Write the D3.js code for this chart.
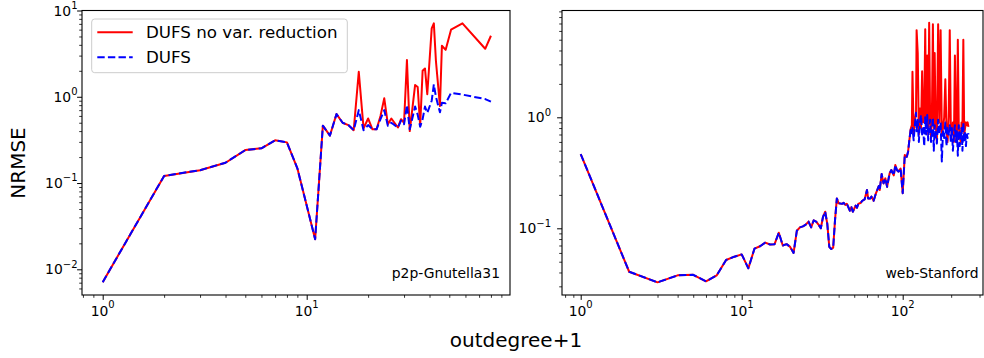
<!DOCTYPE html>
<html><head><meta charset="utf-8">
<script src="https://cdn.jsdelivr.net/npm/d3@7"></script>
<style>body{margin:0;background:#fff}svg{display:block;font-family:"DejaVu Sans",sans-serif}</style>
</head><body>
<svg id="chart" width="984" height="358"></svg>
<script>
// ---------------- DATA ----------------
const seriesNames = ["DUFS no var. reduction", "DUFS"];
const panelNames = ["p2p-Gnutella31", "web-Stanford"];
const xLabel = "outdegree+1";
const yLabel = "NRMSE";

// p2p-Gnutella31
const leftX = [1,2,3,4,5,6,7,8,9,10,11,12,13,14,15,16,17,18,19,20,21,22,23,24,25,26,28,29,30,31,32,34,35,36,37,38,39,41,42,43,45,46,48,51,58,75,80];
const leftRed = [0.0071,0.121,0.141,0.172,0.241,0.253,0.313,0.296,0.148,0.055,0.0223,0.462,0.355,0.63,0.50,0.47,0.41,1.95,0.43,0.56,0.42,0.42,0.60,0.96,0.48,0.56,0.44,0.55,0.50,2.67,0.40,1.37,1.30,0.46,2.0,2.13,1.07,6.2,7.1,2.6,0.78,3.9,3.5,6.0,7.1,3.6,5.1];
const leftBlue = [0.0071,0.121,0.141,0.172,0.241,0.253,0.313,0.296,0.148,0.055,0.0223,0.462,0.355,0.63,0.50,0.47,0.41,0.70,0.41,0.47,0.42,0.42,0.55,0.70,0.46,0.50,0.44,0.53,0.48,0.80,0.42,0.77,0.62,0.45,0.55,0.77,0.65,0.90,1.39,1.00,0.66,0.85,0.84,1.11,1.06,0.94,0.88];

// web-Stanford
const rightX = [1,2,3,4,5,6,7,8,9,10,11,12,13,14,15,16,17,18,19,20,21,22,23,24,25,26,27,28,29,30,31,32,33,34,35,36,37,38,39,40,
  42,43,44,45,47,48,49,51,52,53,55,56,58,60,61,63,64,66,68,71,72,74,76,78,80,82,83,85,88,90,92,94,97,100,103,106,108,110,
  112,114,115,117,119,121,122,124,126,128,130,132,134,136,138,140,142,144,146,148,150,152,154,156,158,160,163,166,169,172,175,178,181,184,187,190,193,196,199,202,205,208,211,214,217,220,223,226,229,232,235,238,241,244,247,250,253,256];
const rightCommon = [0.467,0.0406,0.0326,0.0377,0.0381,0.0333,0.0377,0.0518,0.0555,0.0582,0.0436,0.0655,0.0689,0.0742,0.0714,0.072,0.0912,0.070,0.072,0.068,0.060,0.095,0.102,0.104,0.108,0.115,0.102,0.118,0.115,0.108,0.100,0.127,0.141,0.110,0.068,0.065,0.067,0.119,0.186,0.168,
  0.166,0.170,0.162,0.166,0.144,0.155,0.141,0.160,0.153,0.166,0.170,0.177,0.182,0.221,0.186,0.186,0.193,0.177,0.204,0.240,0.221,0.308,0.254,0.282,0.236,0.287,0.313,0.335,0.300,0.372,0.335,0.324,0.346,0.207,0.457,0.440,0.490,0.624];
const rightRedTail = [0.78,0.85,2.57,0.70,0.95,1.10,6.1,3.8,0.70,1.20,0.80,2.6,0.90,1.00,6.2,0.80,3.6,0.70,7.1,1.00,0.65,1.20,6.9,0.80,3.8,0.90,0.60,6.9,0.90,6.1,0.70,0.80,1.00,2.2,0.80,0.60,1.00,6.1,0.80,0.70,0.90,0.60,3.6,0.70,0.60,5.0,0.80,0.70,0.60,0.90,0.80,5.0,0.70,0.80,0.90,0.85,0.90,0.82];
const rightBlueTail = [0.77,0.72,0.80,0.62,0.85,1.10,0.75,0.95,0.60,0.90,1.05,0.70,0.80,0.55,1.00,0.70,1.05,0.62,0.85,0.95,0.60,0.75,1.00,0.50,0.85,0.70,0.58,0.95,0.70,0.90,0.40,0.75,0.65,0.90,0.55,0.80,0.70,0.85,0.60,0.80,0.50,0.70,0.85,0.60,0.75,0.45,0.85,0.55,0.65,0.80,0.50,0.90,0.60,0.75,0.55,0.70,0.65,0.72];
const rightRed = rightCommon.concat(rightRedTail);
const rightBlue = rightCommon.concat(rightBlueTail);

const leftYTicks = [1e-2, 1e-1, 1e0, 1e1];
const leftYTickLabels = [["10","−2"],["10","−1"],["10","0"],["10","1"]];
const leftXTicks = [1, 10];
const leftXTickLabels = [["10","0"],["10","1"]];
const rightYTicks = [1e-1, 1e0];
const rightYTickLabels = [["10","−1"],["10","0"]];
const rightXTicks = [1, 10, 100];
const rightXTickLabels = [["10","0"],["10","1"],["10","2"]];

// ---------------- LAYOUT ----------------
const svg = d3.select("#chart");
svg.append("rect").attr("width",984).attr("height",358).attr("fill","#fff");

function minorTicks(lo, hi){
  const out=[];
  for(let e=Math.floor(Math.log10(lo)); e<=Math.ceil(Math.log10(hi)); e++){
    for(let m=2;m<=9;m++){const v=m*Math.pow(10,e); if(v>=lo && v<=hi) out.push(v);}
  }
  return out;
}

function drawPanel(p){
  const x = d3.scaleLog().domain(p.xDomain).range([p.left, p.right]);
  const y = d3.scaleLog().domain(p.yDomain).range([p.bottom, p.top]);
  const g = svg.append("g");
  const cid = "clip"+p.id;
  svg.append("defs").append("clipPath").attr("id",cid).append("rect")
    .attr("x",p.left).attr("y",p.top).attr("width",p.right-p.left).attr("height",p.bottom-p.top);

  const line = d3.line().x(d=>x(d[0])).y(d=>y(d[1]));
  const redData = p.xs.map((v,i)=>[v,p.red[i]]);
  const blueData = p.xs.map((v,i)=>[v,p.blue[i]]);
  const lg = g.append("g").attr("clip-path",`url(#${cid})`);
  lg.append("path").datum(redData).attr("d",line).attr("fill","none")
    .attr("stroke","#ff0000").attr("stroke-width",2).attr("stroke-linejoin","round");
  lg.append("path").datum(blueData).attr("d",line).attr("fill","none")
    .attr("stroke","#0000ff").attr("stroke-width",2).attr("stroke-dasharray","7.4,3.2").attr("stroke-linejoin","round");

  // axes
  const xd = x.domain(), yd = y.domain();
  const axStyle = sel => { sel.select(".domain").remove(); sel.selectAll("line").attr("stroke","#000"); };
  g.append("g").attr("transform",`translate(0,${p.bottom})`)
    .call(d3.axisBottom(x).tickValues(minorTicks(xd[0],xd[1])).tickSize(2.8).tickFormat(""))
    .call(axStyle).selectAll("line").attr("stroke-width",0.8);
  g.append("g").attr("transform",`translate(0,${p.bottom})`)
    .call(d3.axisBottom(x).tickValues(p.xTicks).tickSize(4.9).tickFormat(""))
    .call(axStyle).selectAll("line").attr("stroke-width",1);
  g.append("g").attr("transform",`translate(${p.left},0)`)
    .call(d3.axisLeft(y).tickValues(minorTicks(yd[0],yd[1])).tickSize(2.8).tickFormat(""))
    .call(axStyle).selectAll("line").attr("stroke-width",0.8);
  g.append("g").attr("transform",`translate(${p.left},0)`)
    .call(d3.axisLeft(y).tickValues(p.yTicks).tickSize(4.9).tickFormat(""))
    .call(axStyle).selectAll("line").attr("stroke-width",1);

  // tick labels
  p.xTicks.forEach((t,i)=>{
    const tx = g.append("text").attr("x",x(t)).attr("y",p.bottom+21)
      .attr("text-anchor","middle").attr("font-size",13.9).attr("fill","#000");
    tx.append("tspan").text(p.xTickLabels[i][0]);
    tx.append("tspan").attr("dy",-7.7).attr("font-size",10).text(p.xTickLabels[i][1]);
  });
  p.yTicks.forEach((t,i)=>{
    const ty = g.append("text").attr("x",p.yLabelRight).attr("y",y(t)+5)
      .attr("text-anchor","end").attr("font-size",13.9).attr("fill","#000");
    ty.append("tspan").text(p.yTickLabels[i][0]);
    ty.append("tspan").attr("dy",-6.7).attr("font-size",10).text(p.yTickLabels[i][1]);
  });

  // frame
  g.append("rect").attr("x",p.left).attr("y",p.top).attr("width",p.right-p.left).attr("height",p.bottom-p.top)
    .attr("fill","none").attr("stroke","#000").attr("stroke-width",1.1);

  // panel name
  g.append("text").attr("x",p.nameX).attr("y",277.5).attr("text-anchor","end")
    .attr("font-size",13.9).attr("fill","#000").text(p.name);
  return {x,y};
}

// left panel pixel geometry: 10^0 at 102.7, decade 204px ; y: 10^1 at 10.5, decade 86.27px
const L = {id:"L", left:82, right:510, top:10.5, bottom:295,
  xDomain:[Math.pow(10,(82-102.7)/204), Math.pow(10,(510-102.7)/204)],
  yDomain:[Math.pow(10,1-(295-10.5)/86.27), 10],
  xs:leftX, red:leftRed, blue:leftBlue, xTicks:leftXTicks, xTickLabels:leftXTickLabels,
  yTicks:leftYTicks, yTickLabels:leftYTickLabels, yLabelRight:77.5, name:panelNames[0], nameX:500};
const R = {id:"R", left:562, right:983, top:10.5, bottom:295,
  xDomain:[Math.pow(10,(562-580.7)/161), Math.pow(10,(983-580.7)/161)],
  yDomain:[Math.pow(10,-(295-117.3)/111), Math.pow(10,(117.3-10.5)/111)],
  xs:rightX, red:rightRed, blue:rightBlue, xTicks:rightXTicks, xTickLabels:rightXTickLabels,
  yTicks:rightYTicks, yTickLabels:rightYTickLabels, yLabelRight:551, name:panelNames[1], nameX:978.5};
drawPanel(L);
drawPanel(R);

// legend
const lgd = svg.append("g");
lgd.append("rect").attr("x",91.7).attr("y",19).attr("width",255.6).attr("height",53.7).attr("rx",3)
  .attr("fill","#fff").attr("fill-opacity",0.8).attr("stroke","#cccccc").attr("stroke-width",1);
[[32.3,"#ff0000",null],[57.3,"#0000ff","7.4,3.2"]].forEach((d,i)=>{
  const ln = lgd.append("line").attr("x1",97.3).attr("x2",132.7).attr("y1",d[0]).attr("y2",d[0])
    .attr("stroke",d[1]).attr("stroke-width",2);
  if(d[2]) ln.attr("stroke-dasharray",d[2]);
  lgd.append("text").attr("x",146).attr("y",d[0]+6).attr("font-size",16.7).attr("fill","#000").text(seriesNames[i]);
});

// axis labels
svg.append("text").attr("x",516).attr("y",347).attr("text-anchor","middle").attr("font-size",20).attr("fill","#000").text(xLabel);
svg.append("text").attr("transform","translate(25,163) rotate(-90)").attr("text-anchor","middle").attr("font-size",20).attr("fill","#000").text(yLabel);
</script>
</body></html>
